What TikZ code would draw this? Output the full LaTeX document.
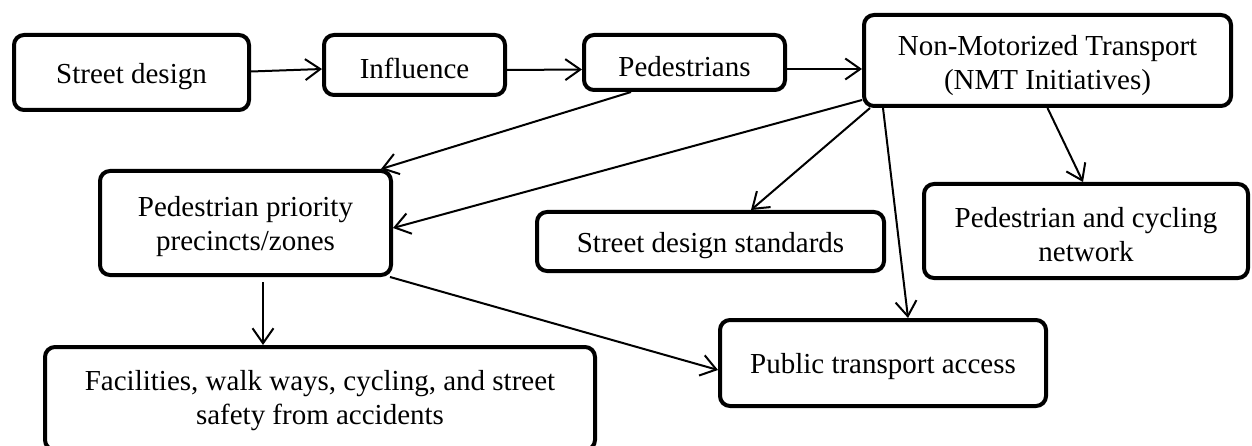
\documentclass[tikz,border=0pt]{standalone}
\usepackage{fontspec}
\setmainfont{Liberation Serif}
\usetikzlibrary{arrows.meta,calc}
\begin{document}
\begin{tikzpicture}[x=1pt,y=-1pt,
  box/.style={draw, line width=4pt, rounded corners=10pt, inner sep=0pt},
  txt/.style={inner sep=0pt, align=center, font=\fontsize{29}{34}\selectfont},
  arr/.style={line width=2pt, -{Straight Barb[length=15pt,width=21pt,line width=2pt]}}]
\useasboundingbox (0,0) rectangle (1252,446);
\fill[white] (0,0) rectangle (1252,446);
\node[box, minimum width=235pt, minimum height=75pt] (sd) at (131.5,72.5) {};
\node[box, minimum width=181pt, minimum height=60pt] (inf) at (414.5,65) {};
\node[box, minimum width=201pt, minimum height=55pt] (ped) at (684.5,62.5) {};
\node[box, minimum width=367pt, minimum height=91pt] (nmt) at (1047.5,60.5) {};
\node[box, minimum width=291pt, minimum height=104pt] (ppz) at (245.5,223) {};
\node[box, minimum width=550pt, minimum height=103pt] (fac) at (320,398.5) {};
\node[box, minimum width=347pt, minimum height=59pt] (sds) at (710.5,241.5) {};
\node[box, minimum width=326pt, minimum height=86pt] (pta) at (883,363) {};
\node[box, minimum width=324pt, minimum height=94pt] (pcn) at (1086,231) {};

\node[txt] (sdT) at ($(sd.center)+(0,4)$) {Street design};
\node[txt] (infT) at ($(inf.center)+(0,3)$) {Influence};
\node[txt] (pedT) at ($(ped.center)+(0,4)$) {Pedestrians};
\node[txt] (nmtT) at ($(nmt.center)+(0,5)$) {Non-Motorized Transport\\(NMT Initiatives)};
\node[txt] (ppzT) at ($(ppz.center)+(0,4)$) {Pedestrian priority\\precincts/zones};
\node[txt] (facT) at ($(fac.center)+(0,2)$) {Facilities, walk ways, cycling, and street\\safety from accidents};
\node[txt] (sdsT) at ($(sds.center)+(0,4)$) {Street design standards};
\node[txt] (ptaT) at ($(pta.center)+(0,4)$) {Public transport access};
\node[txt] (pcnT) at ($(pcn.center)+(0,4)$) {Pedestrian and cycling\\network};

\draw[arr] ($(sd.east)+(0,-1)$) -- ($(inf.west)+(0,4)$);
\draw[arr] ($(inf.east)+(0,5)$) -- ($(ped.west)+(0,7)$);
\draw[arr] ($(ped.east)+(0,6.5)$) -- ($(nmt.west)+(0,8.5)$);
\draw[arr] ($(ped.south west)+(49,0)$) -- ($(ppz.north west)+(283,0)$);
\draw[arr] ($(nmt.south west)+(0,-8)$) -- ($(ppz.east)+(0,5)$);
\draw[arr] ($(nmt.south west)+(8,0)$) -- ($(sds.north west)+(216,0)$);
\draw[arr] ($(nmt.south west)+(21,0)$) -- ($(pta.north west)+(190,0)$);
\draw[arr] (nmt.south) -- ($(pcn.north)+(-3,0)$);
\coordinate (p9) at ($(ppz.south west)+(165,5)$);
\draw[arr] (p9) -- (p9 |- fac.north);
\draw[arr] ($(ppz.south east)+(-3,0)$) -- ($(pta.west)+(0,7)$);
\end{tikzpicture}
\end{document}
